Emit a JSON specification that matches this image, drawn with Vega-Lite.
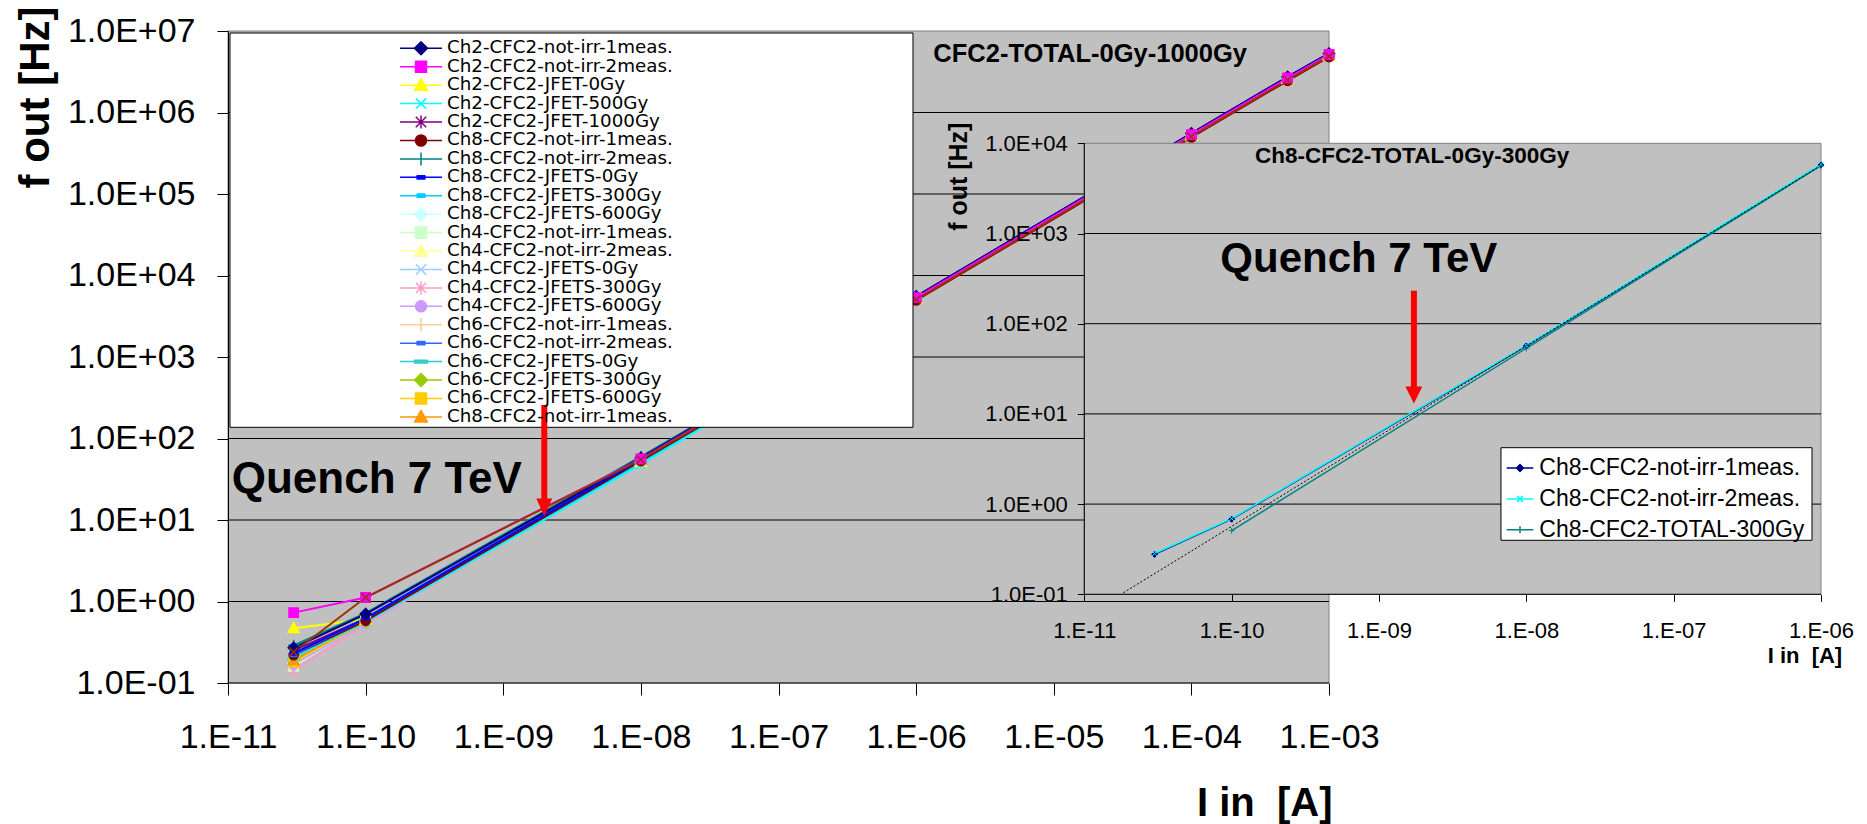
{
  "$schema": "https://vega.github.io/schema/vega-lite/v6.json",
  "width": 1593,
  "height": 652,
  "autosize": {"type": "none"},
  "padding": {"left": 228, "top": 31, "right": 46, "bottom": 141},
  "background": "white",
  "config": {
    "font": "Liberation Sans",
    "view": {"stroke": null},
    "axis": {
      "labelFont": "Liberation Sans", "titleFont": "Liberation Sans",
      "labelColor": "black", "titleColor": "black", "tickColor": "black", "domainColor": "black",
      "grid": false, "labelFlush": false, "labelOverlap": false, "tickWidth": 1
    },
    "legend": {"labelFont": "Liberation Sans", "labelColor": "black"}
  },
  "datasets": {
    "mainGrid": [{"f": 1}, {"f": 10}, {"f": 100}, {"f": 1000}, {"f": 10000}, {"f": 100000}, {"f": 1000000}],
    "insetGrid": [{"f": 1}, {"f": 10}, {"f": 100}, {"f": 1000}],
    "trend": [{"I": 1.84e-11, "f": 0.104}, {"I": 1e-6, "f": 5700}],
    "inset": [
      {"s": "Ch8-CFC2-not-irr-1meas.", "I": 3e-11, "f": 0.277},
      {"s": "Ch8-CFC2-not-irr-1meas.", "I": 1e-10, "f": 0.68},
      {"s": "Ch8-CFC2-not-irr-1meas.", "I": 1e-8, "f": 56.6},
      {"s": "Ch8-CFC2-not-irr-1meas.", "I": 1e-6, "f": 5750},
      {"s": "Ch8-CFC2-not-irr-2meas.", "I": 3e-11, "f": 0.283},
      {"s": "Ch8-CFC2-not-irr-2meas.", "I": 1e-10, "f": 0.69},
      {"s": "Ch8-CFC2-not-irr-2meas.", "I": 1e-8, "f": 57.6},
      {"s": "Ch8-CFC2-not-irr-2meas.", "I": 1e-6, "f": 5850},
      {"s": "Ch8-CFC2-TOTAL-300Gy", "I": 1e-10, "f": 0.507},
      {"s": "Ch8-CFC2-TOTAL-300Gy", "I": 1e-8, "f": 53.4},
      {"s": "Ch8-CFC2-TOTAL-300Gy", "I": 1e-6, "f": 5650}
    ],
    "main": [
      {"s": "Ch8-CFC2-JFETS-600Gy", "I": 3e-11, "f": 0.21}, {"s": "Ch8-CFC2-JFETS-600Gy", "I": 1e-10, "f": 0.58}, {"s": "Ch8-CFC2-JFETS-600Gy", "I": 1e-8, "f": 52}, {"s": "Ch8-CFC2-JFETS-600Gy", "I": 1e-6, "f": 5300}, {"s": "Ch8-CFC2-JFETS-600Gy", "I": 1e-4, "f": 530000}, {"s": "Ch8-CFC2-JFETS-600Gy", "I": 5e-4, "f": 2620000}, {"s": "Ch8-CFC2-JFETS-600Gy", "I": 1e-3, "f": 5100000},
      {"s": "Ch4-CFC2-not-irr-1meas.", "I": 3e-11, "f": 0.16}, {"s": "Ch4-CFC2-not-irr-1meas.", "I": 1e-10, "f": 0.57}, {"s": "Ch4-CFC2-not-irr-1meas.", "I": 1e-8, "f": 51}, {"s": "Ch4-CFC2-not-irr-1meas.", "I": 1e-6, "f": 5250}, {"s": "Ch4-CFC2-not-irr-1meas.", "I": 1e-4, "f": 525000}, {"s": "Ch4-CFC2-not-irr-1meas.", "I": 5e-4, "f": 2600000}, {"s": "Ch4-CFC2-not-irr-1meas.", "I": 1e-3, "f": 5050000},
      {"s": "Ch4-CFC2-not-irr-2meas.", "I": 3e-11, "f": 0.20}, {"s": "Ch4-CFC2-not-irr-2meas.", "I": 1e-10, "f": 0.58}, {"s": "Ch4-CFC2-not-irr-2meas.", "I": 1e-8, "f": 52}, {"s": "Ch4-CFC2-not-irr-2meas.", "I": 1e-6, "f": 5300}, {"s": "Ch4-CFC2-not-irr-2meas.", "I": 1e-4, "f": 530000}, {"s": "Ch4-CFC2-not-irr-2meas.", "I": 5e-4, "f": 2620000}, {"s": "Ch4-CFC2-not-irr-2meas.", "I": 1e-3, "f": 5100000},
      {"s": "Ch4-CFC2-JFETS-0Gy", "I": 3e-11, "f": 0.19}, {"s": "Ch4-CFC2-JFETS-0Gy", "I": 1e-10, "f": 0.55}, {"s": "Ch4-CFC2-JFETS-0Gy", "I": 1e-8, "f": 50}, {"s": "Ch4-CFC2-JFETS-0Gy", "I": 1e-6, "f": 5200}, {"s": "Ch4-CFC2-JFETS-0Gy", "I": 1e-4, "f": 520000}, {"s": "Ch4-CFC2-JFETS-0Gy", "I": 5e-4, "f": 2580000}, {"s": "Ch4-CFC2-JFETS-0Gy", "I": 1e-3, "f": 5000000},
      {"s": "Ch4-CFC2-JFETS-300Gy", "I": 3e-11, "f": 0.14}, {"s": "Ch4-CFC2-JFETS-300Gy", "I": 1e-10, "f": 0.52}, {"s": "Ch4-CFC2-JFETS-300Gy", "I": 1e-8, "f": 54}, {"s": "Ch4-CFC2-JFETS-300Gy", "I": 1e-6, "f": 5350}, {"s": "Ch4-CFC2-JFETS-300Gy", "I": 1e-4, "f": 535000}, {"s": "Ch4-CFC2-JFETS-300Gy", "I": 5e-4, "f": 2650000}, {"s": "Ch4-CFC2-JFETS-300Gy", "I": 1e-3, "f": 5150000},
      {"s": "Ch4-CFC2-JFETS-600Gy", "I": 3e-11, "f": 0.17}, {"s": "Ch4-CFC2-JFETS-600Gy", "I": 1e-10, "f": 0.54}, {"s": "Ch4-CFC2-JFETS-600Gy", "I": 1e-8, "f": 52}, {"s": "Ch4-CFC2-JFETS-600Gy", "I": 1e-6, "f": 5300}, {"s": "Ch4-CFC2-JFETS-600Gy", "I": 1e-4, "f": 530000}, {"s": "Ch4-CFC2-JFETS-600Gy", "I": 5e-4, "f": 2620000}, {"s": "Ch4-CFC2-JFETS-600Gy", "I": 1e-3, "f": 5100000},
      {"s": "Ch6-CFC2-not-irr-1meas.", "I": 3e-11, "f": 0.18}, {"s": "Ch6-CFC2-not-irr-1meas.", "I": 1e-10, "f": 0.56}, {"s": "Ch6-CFC2-not-irr-1meas.", "I": 1e-8, "f": 53}, {"s": "Ch6-CFC2-not-irr-1meas.", "I": 1e-6, "f": 5300}, {"s": "Ch6-CFC2-not-irr-1meas.", "I": 1e-4, "f": 530000}, {"s": "Ch6-CFC2-not-irr-1meas.", "I": 5e-4, "f": 2620000}, {"s": "Ch6-CFC2-not-irr-1meas.", "I": 1e-3, "f": 5100000},
      {"s": "Ch6-CFC2-JFETS-0Gy", "I": 3e-11, "f": 0.20}, {"s": "Ch6-CFC2-JFETS-0Gy", "I": 1e-10, "f": 0.57}, {"s": "Ch6-CFC2-JFETS-0Gy", "I": 1e-8, "f": 51}, {"s": "Ch6-CFC2-JFETS-0Gy", "I": 1e-6, "f": 5300}, {"s": "Ch6-CFC2-JFETS-0Gy", "I": 1e-4, "f": 530000}, {"s": "Ch6-CFC2-JFETS-0Gy", "I": 5e-4, "f": 2620000}, {"s": "Ch6-CFC2-JFETS-0Gy", "I": 1e-3, "f": 5100000},
      {"s": "Ch6-CFC2-JFETS-300Gy", "I": 3e-11, "f": 0.19}, {"s": "Ch6-CFC2-JFETS-300Gy", "I": 1e-10, "f": 0.56}, {"s": "Ch6-CFC2-JFETS-300Gy", "I": 1e-8, "f": 52}, {"s": "Ch6-CFC2-JFETS-300Gy", "I": 1e-6, "f": 5300}, {"s": "Ch6-CFC2-JFETS-300Gy", "I": 1e-4, "f": 530000}, {"s": "Ch6-CFC2-JFETS-300Gy", "I": 5e-4, "f": 2620000}, {"s": "Ch6-CFC2-JFETS-300Gy", "I": 1e-3, "f": 5100000},
      {"s": "Ch6-CFC2-JFETS-600Gy", "I": 3e-11, "f": 0.18}, {"s": "Ch6-CFC2-JFETS-600Gy", "I": 1e-10, "f": 0.60}, {"s": "Ch6-CFC2-JFETS-600Gy", "I": 1e-8, "f": 53}, {"s": "Ch6-CFC2-JFETS-600Gy", "I": 1e-6, "f": 5350}, {"s": "Ch6-CFC2-JFETS-600Gy", "I": 1e-4, "f": 535000}, {"s": "Ch6-CFC2-JFETS-600Gy", "I": 5e-4, "f": 2650000}, {"s": "Ch6-CFC2-JFETS-600Gy", "I": 1e-3, "f": 5150000},
      {"s": "Ch8-CFC2-not-irr-1meas. ", "I": 3e-11, "f": 0.19}, {"s": "Ch8-CFC2-not-irr-1meas. ", "I": 1e-10, "f": 0.58}, {"s": "Ch8-CFC2-not-irr-1meas. ", "I": 1e-8, "f": 54}, {"s": "Ch8-CFC2-not-irr-1meas. ", "I": 1e-6, "f": 5400}, {"s": "Ch8-CFC2-not-irr-1meas. ", "I": 1e-4, "f": 540000}, {"s": "Ch8-CFC2-not-irr-1meas. ", "I": 5e-4, "f": 2670000}, {"s": "Ch8-CFC2-not-irr-1meas. ", "I": 1e-3, "f": 5200000},
      {"s": "Ch2-CFC2-JFET-0Gy", "I": 3e-11, "f": 0.47}, {"s": "Ch2-CFC2-JFET-0Gy", "I": 1e-10, "f": 0.60}, {"s": "Ch2-CFC2-JFET-0Gy", "I": 1e-8, "f": 52}, {"s": "Ch2-CFC2-JFET-0Gy", "I": 1e-6, "f": 5200}, {"s": "Ch2-CFC2-JFET-0Gy", "I": 1e-4, "f": 520000}, {"s": "Ch2-CFC2-JFET-0Gy", "I": 5e-4, "f": 2580000}, {"s": "Ch2-CFC2-JFET-0Gy", "I": 1e-3, "f": 5000000},
      {"s": "Ch8-CFC2-JFETS-300Gy", "I": 3e-11, "f": 0.22}, {"s": "Ch8-CFC2-JFETS-300Gy", "I": 1e-10, "f": 0.60}, {"s": "Ch8-CFC2-JFETS-300Gy", "I": 1e-8, "f": 50}, {"s": "Ch8-CFC2-JFETS-300Gy", "I": 1e-6, "f": 5250}, {"s": "Ch8-CFC2-JFETS-300Gy", "I": 1e-4, "f": 525000}, {"s": "Ch8-CFC2-JFETS-300Gy", "I": 5e-4, "f": 2600000}, {"s": "Ch8-CFC2-JFETS-300Gy", "I": 1e-3, "f": 5050000},
      {"s": "Ch2-CFC2-JFET-500Gy", "I": 3e-11, "f": 0.21}, {"s": "Ch2-CFC2-JFET-500Gy", "I": 1e-10, "f": 0.56}, {"s": "Ch2-CFC2-JFET-500Gy", "I": 1e-8, "f": 48}, {"s": "Ch2-CFC2-JFET-500Gy", "I": 1e-6, "f": 5100}, {"s": "Ch2-CFC2-JFET-500Gy", "I": 1e-4, "f": 510000}, {"s": "Ch2-CFC2-JFET-500Gy", "I": 5e-4, "f": 2520000}, {"s": "Ch2-CFC2-JFET-500Gy", "I": 1e-3, "f": 4950000},
      {"s": "Ch2-CFC2-JFET-1000Gy", "I": 3e-11, "f": 0.25}, {"s": "Ch2-CFC2-JFET-1000Gy", "I": 1e-10, "f": 0.62}, {"s": "Ch2-CFC2-JFET-1000Gy", "I": 1e-8, "f": 55}, {"s": "Ch2-CFC2-JFET-1000Gy", "I": 1e-6, "f": 5300}, {"s": "Ch2-CFC2-JFET-1000Gy", "I": 1e-4, "f": 530000}, {"s": "Ch2-CFC2-JFET-1000Gy", "I": 5e-4, "f": 2620000}, {"s": "Ch2-CFC2-JFET-1000Gy", "I": 1e-3, "f": 5100000},
      {"s": "Ch8-CFC2-not-irr-1meas.", "I": 3e-11, "f": 0.22}, {"s": "Ch8-CFC2-not-irr-1meas.", "I": 1e-10, "f": 0.58}, {"s": "Ch8-CFC2-not-irr-1meas.", "I": 1e-8, "f": 53}, {"s": "Ch8-CFC2-not-irr-1meas.", "I": 1e-6, "f": 4950}, {"s": "Ch8-CFC2-not-irr-1meas.", "I": 1e-4, "f": 495000}, {"s": "Ch8-CFC2-not-irr-1meas.", "I": 5e-4, "f": 2450000}, {"s": "Ch8-CFC2-not-irr-1meas.", "I": 1e-3, "f": 4800000},
      {"s": "Ch8-CFC2-not-irr-2meas.", "I": 3e-11, "f": 0.29}, {"s": "Ch8-CFC2-not-irr-2meas.", "I": 1e-10, "f": 0.72}, {"s": "Ch8-CFC2-not-irr-2meas.", "I": 1e-8, "f": 60}, {"s": "Ch8-CFC2-not-irr-2meas.", "I": 1e-6, "f": 5450}, {"s": "Ch8-CFC2-not-irr-2meas.", "I": 1e-4, "f": 545000}, {"s": "Ch8-CFC2-not-irr-2meas.", "I": 5e-4, "f": 2700000}, {"s": "Ch8-CFC2-not-irr-2meas.", "I": 1e-3, "f": 5250000},
      {"s": "Ch6-CFC2-not-irr-2meas.", "I": 3e-11, "f": 0.22}, {"s": "Ch6-CFC2-not-irr-2meas.", "I": 1e-10, "f": 0.63}, {"s": "Ch6-CFC2-not-irr-2meas.", "I": 1e-8, "f": 57}, {"s": "Ch6-CFC2-not-irr-2meas.", "I": 1e-6, "f": 5500}, {"s": "Ch6-CFC2-not-irr-2meas.", "I": 1e-4, "f": 550000}, {"s": "Ch6-CFC2-not-irr-2meas.", "I": 5e-4, "f": 2720000}, {"s": "Ch6-CFC2-not-irr-2meas.", "I": 1e-3, "f": 5300000},
      {"s": "Ch8-CFC2-JFETS-0Gy", "I": 3e-11, "f": 0.23}, {"s": "Ch8-CFC2-JFETS-0Gy", "I": 1e-10, "f": 0.62}, {"s": "Ch8-CFC2-JFETS-0Gy", "I": 1e-8, "f": 55}, {"s": "Ch8-CFC2-JFETS-0Gy", "I": 1e-6, "f": 5500}, {"s": "Ch8-CFC2-JFETS-0Gy", "I": 1e-4, "f": 550000}, {"s": "Ch8-CFC2-JFETS-0Gy", "I": 5e-4, "f": 2720000}, {"s": "Ch8-CFC2-JFETS-0Gy", "I": 1e-3, "f": 5280000},
      {"s": "Ch2-CFC2-not-irr-1meas.", "I": 3e-11, "f": 0.27}, {"s": "Ch2-CFC2-not-irr-1meas.", "I": 1e-10, "f": 0.70}, {"s": "Ch2-CFC2-not-irr-1meas.", "I": 1e-8, "f": 58}, {"s": "Ch2-CFC2-not-irr-1meas.", "I": 1e-6, "f": 5550}, {"s": "Ch2-CFC2-not-irr-1meas.", "I": 1e-4, "f": 555000}, {"s": "Ch2-CFC2-not-irr-1meas.", "I": 5e-4, "f": 2740000}, {"s": "Ch2-CFC2-not-irr-1meas.", "I": 1e-3, "f": 5300000},
      {"s": "Ch2-CFC2-not-irr-2meas.", "I": 3e-11, "f": 0.73}, {"s": "Ch2-CFC2-not-irr-2meas.", "I": 1e-10, "f": 1.12}, {"s": "Ch2-CFC2-not-irr-2meas.", "I": 1e-8, "f": 56}, {"s": "Ch2-CFC2-not-irr-2meas.", "I": 1e-6, "f": 5350}, {"s": "Ch2-CFC2-not-irr-2meas.", "I": 1e-4, "f": 535000}, {"s": "Ch2-CFC2-not-irr-2meas.", "I": 5e-4, "f": 2650000}, {"s": "Ch2-CFC2-not-irr-2meas.", "I": 1e-3, "f": 5150000},
      {"s": "Ch8-CFC2-not-irr-2meas. ", "I": 3e-11, "f": 0.24}, {"s": "Ch8-CFC2-not-irr-2meas. ", "I": 1e-10, "f": 1.12}, {"s": "Ch8-CFC2-not-irr-2meas. ", "I": 1e-8, "f": 55}, {"s": "Ch8-CFC2-not-irr-2meas. ", "I": 1e-6, "f": 5050}, {"s": "Ch8-CFC2-not-irr-2meas. ", "I": 1e-4, "f": 505000}, {"s": "Ch8-CFC2-not-irr-2meas. ", "I": 5e-4, "f": 2500000}, {"s": "Ch8-CFC2-not-irr-2meas. ", "I": 1e-3, "f": 4900000}
    ]
  },
  "layer": [
    {
      "layer": [
        {
          "data": {"values": [{}]},
          "mark": {"type": "rect", "fill": "#c0c0c0", "stroke": "#808080", "strokeWidth": 1},
          "encoding": {
            "x": {"datum": 1e-11, "type": "quantitative", "scale": {"type": "log", "domain": [1e-11, 3.7574], "nice": false}},
            "x2": {"datum": 0.001},
            "y": {"datum": 0.1, "type": "quantitative", "scale": {"type": "log", "domain": [0.1, 10000000], "nice": false}},
            "y2": {"datum": 10000000}
          }
        },
        {
          "data": {"name": "mainGrid"},
          "mark": {"type": "rule", "color": "black", "strokeWidth": 1},
          "encoding": {
            "x": {"datum": 1e-11, "type": "quantitative", "scale": {"type": "log", "domain": [1e-11, 3.7574], "nice": false}},
            "x2": {"datum": 0.001},
            "y": {"field": "f", "type": "quantitative", "scale": {"type": "log", "domain": [0.1, 10000000], "nice": false}}
          }
        },
        {
          "data": {"values": [{}]},
          "mark": {"type": "rule", "color": "black", "strokeWidth": 1},
          "encoding": {
            "x": {"datum": 1e-11, "type": "quantitative", "scale": {"type": "log", "domain": [1e-11, 3.7574], "nice": false}},
            "x2": {"datum": 0.001},
            "y": {"datum": 0.1, "type": "quantitative", "scale": {"type": "log", "domain": [0.1, 10000000], "nice": false}}
          }
        },
        {
          "data": {"name": "main"},
          "mark": {"type": "line", "strokeWidth": 2},
          "encoding": {
            "x": {"field": "I", "type": "quantitative", "scale": {"type": "log", "domain": [1e-11, 3.7574], "nice": false},
              "axis": {"orient": "bottom", "values": [1e-11, 1e-10, 1e-9, 1e-8, 1e-7, 1e-6, 1e-5, 1e-4, 1e-3],
                "labelExpr": "'1.E-' + (round(-log(datum.value) / LN10) < 10 ? '0' : '') + round(-log(datum.value) / LN10)",
                "domain": false, "tickSize": 12, "labelPadding": 25, "labelFontSize": 34,
                "title": "I in\u00a0 [A]", "titleFontSize": 40, "titleFontWeight": "bold",
                "titleX": 1104, "titleY": 132, "titleAlign": "right", "titleBaseline": "alphabetic", "zindex": 1}},
            "y": {"field": "f", "type": "quantitative", "scale": {"type": "log", "domain": [0.1, 10000000], "nice": false},
              "axis": {"orient": "left", "values": [0.1, 1, 10, 100, 1000, 10000, 100000, 1000000, 10000000],
                "labelExpr": "'1.0E' + (datum.value < 1 ? '-' : '+') + (abs(round(log(datum.value) / LN10)) < 10 ? '0' : '') + abs(round(log(datum.value) / LN10))",
                "domain": true, "domainWidth": 1, "tickSize": 11, "labelPadding": 22, "labelFontSize": 34,
                "title": null, "zindex": 1}},
            "stroke": {"field": "s", "type": "nominal",
              "scale": {
                "domain": ["Ch2-CFC2-not-irr-1meas.", "Ch2-CFC2-not-irr-2meas.", "Ch2-CFC2-JFET-0Gy", "Ch2-CFC2-JFET-500Gy", "Ch2-CFC2-JFET-1000Gy", "Ch8-CFC2-not-irr-1meas.", "Ch8-CFC2-not-irr-2meas.", "Ch8-CFC2-JFETS-0Gy", "Ch8-CFC2-JFETS-300Gy", "Ch8-CFC2-JFETS-600Gy", "Ch4-CFC2-not-irr-1meas.", "Ch4-CFC2-not-irr-2meas.", "Ch4-CFC2-JFETS-0Gy", "Ch4-CFC2-JFETS-300Gy", "Ch4-CFC2-JFETS-600Gy", "Ch6-CFC2-not-irr-1meas.", "Ch6-CFC2-not-irr-2meas.", "Ch6-CFC2-JFETS-0Gy", "Ch6-CFC2-JFETS-300Gy", "Ch6-CFC2-JFETS-600Gy", "Ch8-CFC2-not-irr-1meas. ", "Ch8-CFC2-not-irr-2meas. "],
                "range": ["#000080", "#FF00FF", "#FFFF00", "#00FFFF", "#800080", "#800000", "#008080", "#0000FF", "#00CCFF", "#CCFFFF", "#CCFFCC", "#FFFF99", "#99CCFF", "#FF99CC", "#CC99FF", "#FFCC99", "#3366FF", "#33CCCC", "#99CC00", "#FFCC00", "#FF9900", "#993300"]
              },
              "legend": {
                "orient": "none", "legendX": 183.85, "legendY": 8.15, "direction": "vertical", "columns": 1,
                "title": null, "padding": 0,
                "values": ["Ch2-CFC2-not-irr-1meas.", "Ch2-CFC2-not-irr-2meas.", "Ch2-CFC2-JFET-0Gy", "Ch2-CFC2-JFET-500Gy", "Ch2-CFC2-JFET-1000Gy", "Ch8-CFC2-not-irr-1meas.", "Ch8-CFC2-not-irr-2meas.", "Ch8-CFC2-JFETS-0Gy", "Ch8-CFC2-JFETS-300Gy", "Ch8-CFC2-JFETS-600Gy", "Ch4-CFC2-not-irr-1meas.", "Ch4-CFC2-not-irr-2meas.", "Ch4-CFC2-JFETS-0Gy", "Ch4-CFC2-JFETS-300Gy", "Ch4-CFC2-JFETS-600Gy", "Ch6-CFC2-not-irr-1meas.", "Ch6-CFC2-not-irr-2meas.", "Ch6-CFC2-JFETS-0Gy", "Ch6-CFC2-JFETS-300Gy", "Ch6-CFC2-JFETS-600Gy", "Ch8-CFC2-not-irr-1meas. "],
                "symbolSize": 169, "symbolStrokeWidth": 1.5, "symbolOffset": 0,
                "labelFont": "DejaVu Sans", "labelFontSize": 18.3, "labelOffset": 16.85, "labelLimit": 500, "rowPadding": -0.57,
                "encode": {
                  "symbols": {
                    "update": {
                      "shape": {"signal": "['M-3.23,0H3.23M0,-1L1,0L0,1L-1,0Z','M-3.23,0H3.23M-0.85,-0.85H0.85V0.85H-0.85Z','M-3.23,0H3.23M0,-1L1,0.8H-1Z','M-3.23,0H3.23M-0.8,-0.8L0.8,0.8M-0.8,0.8L0.8,-0.8','M-3.23,0H3.23M-0.8,-0.8L0.8,0.8M-0.8,0.8L0.8,-0.8M0,-1V1','M-3.23,0H3.23M-0.85,0A0.85,0.85,0,1,0,0.85,0A0.85,0.85,0,1,0,-0.85,0Z','M-3.23,0H3.23M0,-1V1','M-3.23,0H3.23M-0.6,-0.25H0.6V0.25H-0.6Z','M-3.23,0H3.23M-0.6,-0.25H0.6V0.25H-0.6Z','M-3.23,0H3.23M0,-1L1,0L0,1L-1,0Z','M-3.23,0H3.23M-0.85,-0.85H0.85V0.85H-0.85Z','M-3.23,0H3.23M0,-1L1,0.8H-1Z','M-3.23,0H3.23M-0.8,-0.8L0.8,0.8M-0.8,0.8L0.8,-0.8','M-3.23,0H3.23M-0.8,-0.8L0.8,0.8M-0.8,0.8L0.8,-0.8M0,-1V1','M-3.23,0H3.23M-0.85,0A0.85,0.85,0,1,0,0.85,0A0.85,0.85,0,1,0,-0.85,0Z','M-3.23,0H3.23M0,-1V1','M-3.23,0H3.23M-0.6,-0.25H0.6V0.25H-0.6Z','M-3.23,0H3.23M-1,-0.2H1V0.2H-1Z','M-3.23,0H3.23M0,-1L1,0L0,1L-1,0Z','M-3.23,0H3.23M-0.85,-0.85H0.85V0.85H-0.85Z','M-3.23,0H3.23M0,-1L1,0.8H-1Z'][datum.index]"},
                      "fill": {"signal": "['#000080','#FF00FF','#FFFF00','#00FFFF','#800080','#800000','#008080','#0000FF','#00CCFF','#CCFFFF','#CCFFCC','#FFFF99','#99CCFF','#FF99CC','#CC99FF','#FFCC99','#3366FF','#33CCCC','#99CC00','#FFCC00','#FF9900'][datum.index]"},
                      "strokeWidth": {"value": 1.5},
                      "strokeJoin": {"value": "round"},
                      "opacity": {"value": 1}
                    }
                  }
                }
              }
            }
          }
        },
        {
          "data": {"name": "main"},
          "mark": {"type": "point", "filled": true, "size": 121, "strokeWidth": 1.5, "opacity": 1},
          "encoding": {
            "x": {"field": "I", "type": "quantitative", "scale": {"type": "log", "domain": [1e-11, 3.7574], "nice": false}},
            "y": {"field": "f", "type": "quantitative", "scale": {"type": "log", "domain": [0.1, 10000000], "nice": false}},
            "fill": {"field": "s", "type": "nominal", "legend": null,
              "scale": {
                "domain": ["Ch8-CFC2-not-irr-2meas. ", "Ch8-CFC2-not-irr-1meas. ", "Ch6-CFC2-JFETS-600Gy", "Ch6-CFC2-JFETS-300Gy", "Ch6-CFC2-JFETS-0Gy", "Ch6-CFC2-not-irr-2meas.", "Ch6-CFC2-not-irr-1meas.", "Ch4-CFC2-JFETS-600Gy", "Ch4-CFC2-JFETS-300Gy", "Ch4-CFC2-JFETS-0Gy", "Ch4-CFC2-not-irr-2meas.", "Ch4-CFC2-not-irr-1meas.", "Ch8-CFC2-JFETS-600Gy", "Ch8-CFC2-JFETS-300Gy", "Ch8-CFC2-JFETS-0Gy", "Ch8-CFC2-not-irr-2meas.", "Ch8-CFC2-not-irr-1meas.", "Ch2-CFC2-JFET-1000Gy", "Ch2-CFC2-JFET-500Gy", "Ch2-CFC2-JFET-0Gy", "Ch2-CFC2-not-irr-2meas.", "Ch2-CFC2-not-irr-1meas."],
                "range": ["#993300", "#FF9900", "#FFCC00", "#99CC00", "#33CCCC", "#3366FF", "#FFCC99", "#CC99FF", "#FF99CC", "#99CCFF", "#FFFF99", "#CCFFCC", "#CCFFFF", "#00CCFF", "#0000FF", "#008080", "#800000", "#800080", "#00FFFF", "#FFFF00", "#FF00FF", "#000080"]
              }},
            "stroke": {"field": "s", "type": "nominal", "legend": null,
              "scale": {
                "domain": ["Ch2-CFC2-not-irr-1meas.", "Ch2-CFC2-not-irr-2meas.", "Ch2-CFC2-JFET-0Gy", "Ch2-CFC2-JFET-500Gy", "Ch2-CFC2-JFET-1000Gy", "Ch8-CFC2-not-irr-1meas.", "Ch8-CFC2-not-irr-2meas.", "Ch8-CFC2-JFETS-0Gy", "Ch8-CFC2-JFETS-300Gy", "Ch8-CFC2-JFETS-600Gy", "Ch4-CFC2-not-irr-1meas.", "Ch4-CFC2-not-irr-2meas.", "Ch4-CFC2-JFETS-0Gy", "Ch4-CFC2-JFETS-300Gy", "Ch4-CFC2-JFETS-600Gy", "Ch6-CFC2-not-irr-1meas.", "Ch6-CFC2-not-irr-2meas.", "Ch6-CFC2-JFETS-0Gy", "Ch6-CFC2-JFETS-300Gy", "Ch6-CFC2-JFETS-600Gy", "Ch8-CFC2-not-irr-1meas. ", "Ch8-CFC2-not-irr-2meas. "],
                "range": ["#000080", "#FF00FF", "#FFFF00", "#00FFFF", "#800080", "#800000", "#008080", "#0000FF", "#00CCFF", "#CCFFFF", "#CCFFCC", "#FFFF99", "#99CCFF", "#FF99CC", "#CC99FF", "#FFCC99", "#3366FF", "#33CCCC", "#99CC00", "#FFCC00", "#FF9900", "#993300"]
              }},
            "shape": {"field": "s", "type": "nominal", "legend": null,
              "scale": {
                "domain": ["Ch8-CFC2-not-irr-2meas. ", "Ch8-CFC2-not-irr-1meas. ", "Ch6-CFC2-JFETS-600Gy", "Ch6-CFC2-JFETS-300Gy", "Ch6-CFC2-JFETS-0Gy", "Ch6-CFC2-not-irr-2meas.", "Ch6-CFC2-not-irr-1meas.", "Ch4-CFC2-JFETS-600Gy", "Ch4-CFC2-JFETS-300Gy", "Ch4-CFC2-JFETS-0Gy", "Ch4-CFC2-not-irr-2meas.", "Ch4-CFC2-not-irr-1meas.", "Ch8-CFC2-JFETS-600Gy", "Ch8-CFC2-JFETS-300Gy", "Ch8-CFC2-JFETS-0Gy", "Ch8-CFC2-not-irr-2meas.", "Ch8-CFC2-not-irr-1meas.", "Ch2-CFC2-JFET-1000Gy", "Ch2-CFC2-JFET-500Gy", "Ch2-CFC2-JFET-0Gy", "Ch2-CFC2-not-irr-2meas.", "Ch2-CFC2-not-irr-1meas."],
                "range": ["M-0.8,-0.8L0.8,0.8M-0.8,0.8L0.8,-0.8", "M0,-1L1,0.8H-1Z", "M-0.85,-0.85H0.85V0.85H-0.85Z", "M0,-1L1,0L0,1L-1,0Z", "M-1,-0.2H1V0.2H-1Z", "M-0.6,-0.25H0.6V0.25H-0.6Z", "M-1,0H1M0,-1V1", "M-0.85,0A0.85,0.85,0,1,0,0.85,0A0.85,0.85,0,1,0,-0.85,0Z", "M-0.8,-0.8L0.8,0.8M-0.8,0.8L0.8,-0.8M0,-1V1", "M-0.8,-0.8L0.8,0.8M-0.8,0.8L0.8,-0.8", "M0,-1L1,0.8H-1Z", "M-0.85,-0.85H0.85V0.85H-0.85Z", "M0,-1L1,0L0,1L-1,0Z", "M-0.6,-0.25H0.6V0.25H-0.6Z", "M-0.6,-0.25H0.6V0.25H-0.6Z", "M-1,0H1M0,-1V1", "M-0.85,0A0.85,0.85,0,1,0,0.85,0A0.85,0.85,0,1,0,-0.85,0Z", "M-0.8,-0.8L0.8,0.8M-0.8,0.8L0.8,-0.8M0,-1V1", "M-0.8,-0.8L0.8,0.8M-0.8,0.8L0.8,-0.8", "M0,-1L1,0.8H-1Z", "M-0.85,-0.85H0.85V0.85H-0.85Z", "M0,-1L1,0L0,1L-1,0Z"]
              }}
          }
        },
        {
          "data": {"values": [{}]},
          "mark": {"type": "rect", "fill": "white", "stroke": "black", "strokeWidth": 1},
          "encoding": {
            "x": {"datum": 1.034e-11, "type": "quantitative", "scale": {"type": "log", "domain": [1e-11, 3.7574], "nice": false}},
            "x2": {"datum": 9.49e-7},
            "y": {"datum": 137.2, "type": "quantitative", "scale": {"type": "log", "domain": [0.1, 10000000], "nice": false}},
            "y2": {"datum": 9450000}
          }
        },
        {
          "data": {"values": [{}]},
          "mark": {"type": "text", "text": "f out [Hz]", "angle": 270, "align": "center", "baseline": "middle", "font": "Liberation Sans", "fontSize": 42, "fontWeight": "bold", "color": "black"},
          "encoding": {
            "x": {"datum": 4.03e-13, "type": "quantitative", "scale": {"type": "log", "domain": [1e-11, 3.7574], "nice": false}},
            "y": {"datum": 1528000, "type": "quantitative", "scale": {"type": "log", "domain": [0.1, 10000000], "nice": false}}
          }
        },
        {
          "data": {"values": [{}]},
          "mark": {"type": "text", "text": "CFC2-TOTAL-0Gy-1000Gy", "align": "left", "baseline": "alphabetic", "font": "Liberation Sans", "fontSize": 25.5, "fontWeight": "bold", "color": "black"},
          "encoding": {
            "x": {"datum": 1.334e-6, "type": "quantitative", "scale": {"type": "log", "domain": [1e-11, 3.7574], "nice": false}},
            "y": {"datum": 4200000, "type": "quantitative", "scale": {"type": "log", "domain": [0.1, 10000000], "nice": false}}
          }
        },
        {
          "data": {"values": [{}]},
          "mark": {"type": "text", "text": "Quench 7 TeV", "align": "left", "baseline": "alphabetic", "font": "Liberation Sans", "fontSize": 44, "fontWeight": "bold", "color": "black"},
          "encoding": {
            "x": {"datum": 1.064e-11, "type": "quantitative", "scale": {"type": "log", "domain": [1e-11, 3.7574], "nice": false}},
            "y": {"datum": 21.3, "type": "quantitative", "scale": {"type": "log", "domain": [0.1, 10000000], "nice": false}}
          }
        },
        {
          "data": {"values": [{}]},
          "mark": {"type": "rule", "color": "#ff0000", "strokeWidth": 6},
          "encoding": {
            "x": {"datum": 1.987e-9, "type": "quantitative", "scale": {"type": "log", "domain": [1e-11, 3.7574], "nice": false}},
            "y": {"datum": 257.6, "type": "quantitative", "scale": {"type": "log", "domain": [0.1, 10000000], "nice": false}},
            "y2": {"datum": 14.3}
          }
        },
        {
          "data": {"values": [{}]},
          "mark": {"type": "point", "shape": "M-1,-1.1L1,-1.1L0,1.1Z", "size": 256, "filled": true, "color": "#ff0000", "opacity": 1, "strokeWidth": 0},
          "encoding": {
            "x": {"datum": 1.987e-9, "type": "quantitative", "scale": {"type": "log", "domain": [1e-11, 3.7574], "nice": false}},
            "y": {"datum": 14.3, "type": "quantitative", "scale": {"type": "log", "domain": [0.1, 10000000], "nice": false}}
          }
        }
      ]
    },
    {
      "layer": [
        {
          "data": {"values": [{}]},
          "mark": {"type": "rect", "fill": "#c0c0c0", "stroke": "#808080", "strokeWidth": 1},
          "encoding": {
            "x": {"datum": 1e-11, "type": "quantitative", "scale": {"type": "log", "domain": [1.543e-17, 1e-6], "nice": false}},
            "x2": {"datum": 1e-6},
            "y": {"datum": 0.1, "type": "quantitative", "scale": {"type": "log", "domain": [0.01039, 175800], "nice": false}},
            "y2": {"datum": 10000}
          }
        },
        {
          "data": {"name": "insetGrid"},
          "mark": {"type": "rule", "color": "black", "strokeWidth": 1},
          "encoding": {
            "x": {"datum": 1e-11, "type": "quantitative", "scale": {"type": "log", "domain": [1.543e-17, 1e-6], "nice": false}},
            "x2": {"datum": 1e-6},
            "y": {"field": "f", "type": "quantitative", "scale": {"type": "log", "domain": [0.01039, 175800], "nice": false}}
          }
        },
        {
          "data": {"values": [{}]},
          "mark": {"type": "rule", "color": "black", "strokeWidth": 1},
          "encoding": {
            "x": {"datum": 1e-11, "type": "quantitative", "scale": {"type": "log", "domain": [1.543e-17, 1e-6], "nice": false}},
            "y": {"datum": 0.1, "type": "quantitative", "scale": {"type": "log", "domain": [0.01039, 175800], "nice": false}},
            "y2": {"datum": 10000}
          }
        },
        {
          "data": {"values": [{}]},
          "mark": {"type": "rule", "color": "black", "strokeWidth": 1},
          "encoding": {
            "x": {"datum": 1e-11, "type": "quantitative", "scale": {"type": "log", "domain": [1.543e-17, 1e-6], "nice": false}},
            "x2": {"datum": 1e-6},
            "y": {"datum": 0.1, "type": "quantitative", "scale": {"type": "log", "domain": [0.01039, 175800], "nice": false}}
          }
        },
        {
          "data": {"name": "inset"},
          "mark": {"type": "line", "strokeWidth": 1.5},
          "encoding": {
            "x": {"field": "I", "type": "quantitative", "scale": {"type": "log", "domain": [1.543e-17, 1e-6], "nice": false},
              "axis": {"orient": "bottom", "offset": -88.7, "values": [1e-11, 1e-10, 1e-9, 1e-8, 1e-7, 1e-6],
                "labelExpr": "'1.E-' + (round(-log(datum.value) / LN10) < 10 ? '0' : '') + round(-log(datum.value) / LN10)",
                "domain": false, "tickSize": 7, "labelPadding": 18.7, "labelFontSize": 22,
                "title": "I in\u00a0 [A]", "titleFontSize": 22, "titleFontWeight": "bold",
                "titleX": 1613.7, "titleY": 68.2, "titleAlign": "right", "titleBaseline": "alphabetic", "zindex": 1}},
            "y": {"field": "f", "type": "quantitative", "scale": {"type": "log", "domain": [0.01039, 175800], "nice": false},
              "axis": {"orient": "left", "offset": -856.3, "values": [0.1, 1, 10, 100, 1000, 10000],
                "labelExpr": "'1.0E' + (datum.value < 1 ? '-' : '+') + (abs(round(log(datum.value) / LN10)) < 10 ? '0' : '') + abs(round(log(datum.value) / LN10))",
                "domain": false, "tickSize": 7, "labelPadding": 10, "labelFontSize": 22,
                "title": null, "zindex": 1}},
            "stroke": {"field": "s", "type": "nominal",
              "scale": {"domain": ["Ch8-CFC2-not-irr-1meas.", "Ch8-CFC2-not-irr-2meas.", "Ch8-CFC2-TOTAL-300Gy"], "range": ["#000080", "#00FFFF", "#008080"]},
              "legend": {
                "orient": "none", "legendX": 1280.5, "legendY": 425.5, "direction": "vertical", "columns": 1,
                "title": null, "padding": 0,
                "symbolSize": 100, "symbolStrokeWidth": 1.5, "symbolOffset": 0,
                "labelFontSize": 23, "labelOffset": 7.8, "labelLimit": 500, "rowPadding": 6.9,
                "encode": {
                  "symbols": {
                    "update": {
                      "shape": {"signal": "['M-2.66,0H2.66M0,-0.7L0.7,0L0,0.7L-0.7,0Z','M-2.66,0H2.66M-0.6,-0.6L0.6,0.6M-0.6,0.6L0.6,-0.6','M-2.66,0H2.66M0,-0.7V0.7'][datum.index]"},
                      "fill": {"signal": "['#000080','#00FFFF','#008080'][datum.index]"},
                      "strokeWidth": {"value": 1.5},
                      "strokeJoin": {"value": "round"},
                      "opacity": {"value": 1}
                    }
                  }
                }
              }
            }
          }
        },
        {
          "data": {"name": "trend"},
          "mark": {"type": "line", "color": "black", "strokeWidth": 1, "strokeDash": [2, 2]},
          "encoding": {
            "x": {"field": "I", "type": "quantitative", "scale": {"type": "log", "domain": [1.543e-17, 1e-6], "nice": false}},
            "y": {"field": "f", "type": "quantitative", "scale": {"type": "log", "domain": [0.01039, 175800], "nice": false}}
          }
        },
        {
          "data": {"name": "inset"},
          "mark": {"type": "point", "filled": true, "size": 36, "strokeWidth": 1, "opacity": 1},
          "encoding": {
            "x": {"field": "I", "type": "quantitative", "scale": {"type": "log", "domain": [1.543e-17, 1e-6], "nice": false}},
            "y": {"field": "f", "type": "quantitative", "scale": {"type": "log", "domain": [0.01039, 175800], "nice": false}},
            "fill": {"field": "s", "type": "nominal", "legend": null,
              "scale": {"domain": ["Ch8-CFC2-TOTAL-300Gy", "Ch8-CFC2-not-irr-2meas.", "Ch8-CFC2-not-irr-1meas."], "range": ["#008080", "#00FFFF", "#000080"]}},
            "stroke": {"field": "s", "type": "nominal", "legend": null,
              "scale": {"domain": ["Ch8-CFC2-not-irr-1meas.", "Ch8-CFC2-not-irr-2meas.", "Ch8-CFC2-TOTAL-300Gy"], "range": ["#000080", "#00FFFF", "#008080"]}},
            "shape": {"field": "s", "type": "nominal", "legend": null,
              "scale": {"domain": ["Ch8-CFC2-TOTAL-300Gy", "Ch8-CFC2-not-irr-2meas.", "Ch8-CFC2-not-irr-1meas."], "range": ["M-1,0H1M0,-1V1", "M-1,-1L1,1M-1,1L1,-1", "M0,-1L1,0L0,1L-1,0Z"]}}
          }
        },
        {
          "data": {"values": [{}]},
          "mark": {"type": "rect", "fill": "white", "stroke": "black", "strokeWidth": 1},
          "encoding": {
            "x": {"datum": 6.73e-9, "type": "quantitative", "scale": {"type": "log", "domain": [1.543e-17, 1e-6], "nice": false}},
            "x2": {"datum": 8.69e-7},
            "y": {"datum": 0.397, "type": "quantitative", "scale": {"type": "log", "domain": [0.01039, 175800], "nice": false}},
            "y2": {"datum": 4.22}
          }
        },
        {
          "data": {"values": [{}]},
          "mark": {"type": "text", "text": "f out [Hz]", "angle": 270, "align": "center", "baseline": "middle", "font": "Liberation Sans", "fontSize": 25, "fontWeight": "bold", "color": "black"},
          "encoding": {
            "x": {"datum": 1.411e-12, "type": "quantitative", "scale": {"type": "log", "domain": [1.543e-17, 1e-6], "nice": false}},
            "y": {"datum": 4263, "type": "quantitative", "scale": {"type": "log", "domain": [0.01039, 175800], "nice": false}}
          }
        },
        {
          "data": {"values": [{}]},
          "mark": {"type": "text", "text": "Ch8-CFC2-TOTAL-0Gy-300Gy", "align": "left", "baseline": "alphabetic", "font": "Liberation Sans", "fontSize": 22.5, "fontWeight": "bold", "color": "black"},
          "encoding": {
            "x": {"datum": 1.44e-10, "type": "quantitative", "scale": {"type": "log", "domain": [1.543e-17, 1e-6], "nice": false}},
            "y": {"datum": 6000, "type": "quantitative", "scale": {"type": "log", "domain": [0.01039, 175800], "nice": false}}
          }
        },
        {
          "data": {"values": [{}]},
          "mark": {"type": "text", "text": "Quench 7 TeV", "align": "left", "baseline": "alphabetic", "font": "Liberation Sans", "fontSize": 42, "fontWeight": "bold", "color": "black"},
          "encoding": {
            "x": {"datum": 8.38e-11, "type": "quantitative", "scale": {"type": "log", "domain": [1.543e-17, 1e-6], "nice": false}},
            "y": {"datum": 377, "type": "quantitative", "scale": {"type": "log", "domain": [0.01039, 175800], "nice": false}}
          }
        },
        {
          "data": {"values": [{}]},
          "mark": {"type": "rule", "color": "#ff0000", "strokeWidth": 6},
          "encoding": {
            "x": {"datum": 1.726e-9, "type": "quantitative", "scale": {"type": "log", "domain": [1.543e-17, 1e-6], "nice": false}},
            "y": {"datum": 232.2, "type": "quantitative", "scale": {"type": "log", "domain": [0.01039, 175800], "nice": false}},
            "y2": {"datum": 16.2}
          }
        },
        {
          "data": {"values": [{}]},
          "mark": {"type": "point", "shape": "M-1,-1L1,-1L0,1Z", "size": 289, "filled": true, "color": "#ff0000", "opacity": 1, "strokeWidth": 0},
          "encoding": {
            "x": {"datum": 1.726e-9, "type": "quantitative", "scale": {"type": "log", "domain": [1.543e-17, 1e-6], "nice": false}},
            "y": {"datum": 16.2, "type": "quantitative", "scale": {"type": "log", "domain": [0.01039, 175800], "nice": false}}
          }
        }
      ]
    }
  ],
  "resolve": {
    "scale": {"x": "independent", "y": "independent", "stroke": "independent", "fill": "independent", "shape": "independent"},
    "axis": {"x": "independent", "y": "independent"},
    "legend": {"stroke": "independent"}
  }
}
